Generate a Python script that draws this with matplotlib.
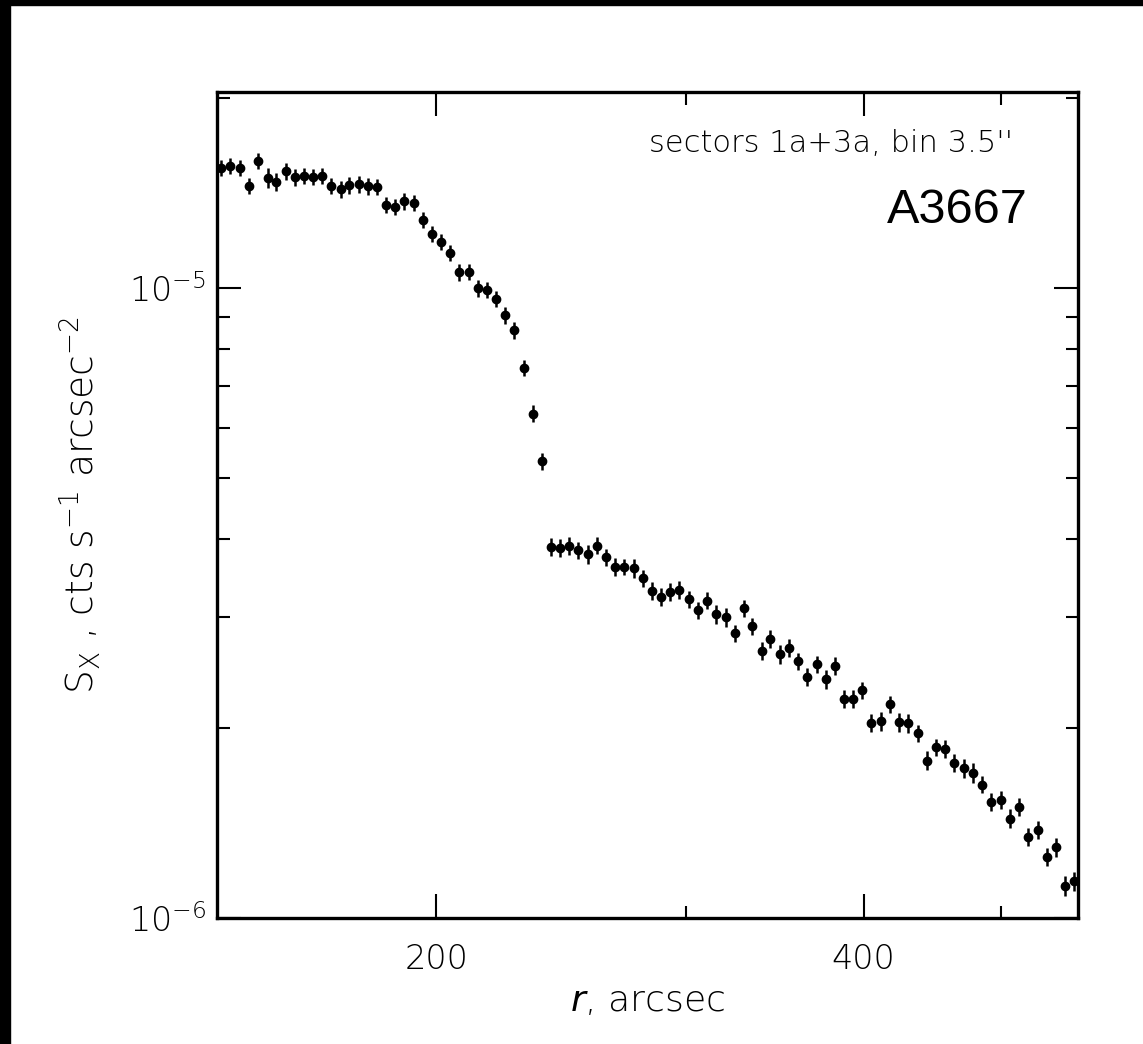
import matplotlib
matplotlib.use("Agg")
import matplotlib.pyplot as plt
from matplotlib.patches import Rectangle
from matplotlib.ticker import FixedLocator, FixedFormatter, NullFormatter

# radius of each bin, arcsec
r = [141.2, 143.3, 145.5, 147.6, 149.9, 152.2, 154.4, 156.7, 159.0, 161.4,
     163.8, 166.3, 168.7, 171.3, 173.8, 176.4, 179.0, 181.8, 184.4, 187.2,
     190.0, 192.9, 195.7, 198.7, 201.6, 204.7, 207.7, 210.9, 214.0, 217.2,
     220.4, 223.8, 227.1, 230.6, 234.0, 237.4, 241.0, 244.6, 248.3, 251.9,
     255.7, 259.6, 263.5, 267.5, 271.4, 275.5, 279.7, 283.9, 288.1, 292.5,
     296.8, 301.3, 305.8, 310.3, 315.0, 319.8, 324.5, 329.3, 334.1, 339.1,
     344.0, 349.2, 354.5, 359.9, 365.2, 370.8, 376.2, 381.8, 387.5, 393.3,
     399.2, 405.2, 411.3, 417.4, 423.9, 430.1, 436.7, 443.1, 449.9, 456.6,
     463.6, 470.5, 477.7, 485.0, 492.2, 499.8, 507.1, 514.9, 522.5, 530.5,
     538.4, 546.7, 554.3, 562.4]

# surface brightness, units of 1e-6 cts/s/arcsec^2
sx = [15.52, 15.64, 15.52, 14.52, 15.93, 14.96, 14.75, 15.32, 14.99, 15.07,
      14.99, 15.07, 14.53, 14.36, 14.56, 14.61, 14.50, 14.48, 13.54, 13.45,
      13.73, 13.64, 12.82, 12.17, 11.83, 11.37, 10.59, 10.61, 9.99, 9.94,
      9.61, 9.05, 8.57, 7.46, 6.32, 5.31, 3.886, 3.867, 3.900, 3.839,
      3.779, 3.900, 3.739, 3.610, 3.610, 3.588, 3.463, 3.304, 3.236, 3.292,
      3.320, 3.209, 3.079, 3.189, 3.034, 3.001, 2.830, 3.101, 2.907, 2.653,
      2.772, 2.621, 2.685, 2.555, 2.411, 2.526, 2.392, 2.512, 2.228, 2.228,
      2.298, 2.041, 2.051, 2.184, 2.047, 2.039, 1.966, 1.778, 1.865, 1.856,
      1.763, 1.728, 1.699, 1.628, 1.529, 1.541, 1.437, 1.501, 1.344, 1.378,
      1.250, 1.295, 1.124, 1.145]

sx_err = [0.46, 0.45, 0.46, 0.44, 0.47, 0.55, 0.48, 0.46, 0.45, 0.44,
          0.44, 0.45, 0.44, 0.44, 0.44, 0.44, 0.43, 0.43, 0.41, 0.41,
          0.41, 0.41, 0.38, 0.36, 0.35, 0.34, 0.32, 0.32, 0.30, 0.30,
          0.29, 0.27, 0.26, 0.22, 0.19, 0.16, 0.13, 0.13, 0.13, 0.12,
          0.13, 0.12, 0.12, 0.12, 0.11, 0.12, 0.11, 0.11, 0.11, 0.11,
          0.11, 0.10, 0.10, 0.10, 0.10, 0.10, 0.09, 0.10, 0.09, 0.09,
          0.09, 0.09, 0.09, 0.08, 0.08, 0.08, 0.08, 0.08, 0.07, 0.07,
          0.07, 0.07, 0.07, 0.07, 0.07, 0.07, 0.06, 0.06, 0.06, 0.06,
          0.06, 0.06, 0.06, 0.05, 0.05, 0.05, 0.05, 0.05, 0.045, 0.045,
          0.042, 0.043, 0.040, 0.040]

x_major = [200, 400]
x_major_labels = ["200", "400"]
x_minor = [300, 500]
y_major = [1e-6, 1e-5]
y_major_labels = [r"$\mathregular{10^{-6}}$", r"$\mathregular{10^{-5}}$"]

plt.rcParams["font.family"] = ["DejaVu Sans"]
plt.rcParams["font.weight"] = "light"
plt.rcParams["axes.labelweight"] = "light"
plt.rcParams["mathtext.default"] = "regular"

fig = plt.figure(figsize=(11.43, 10.44), dpi=100)
ax = fig.add_axes([217 / 1143, 1 - 918 / 1044, 861 / 1143, 826 / 1044])

y = [v * 1e-6 for v in sx]
yerr = [v * 1e-6 for v in sx_err]
ax.errorbar(r, y, yerr=yerr, fmt="o", color="black", ms=6, elinewidth=1.8, capsize=0)

ax.set_xscale("log")
ax.set_yscale("log")
ax.set_xlim(140.2, 566.4)
ax.set_ylim(1e-6, 2.047e-5)

ax.xaxis.set_major_locator(FixedLocator(x_major))
ax.xaxis.set_major_formatter(FixedFormatter(x_major_labels))
ax.xaxis.set_minor_locator(FixedLocator(x_minor))
ax.xaxis.set_minor_formatter(NullFormatter())
ax.yaxis.set_major_locator(FixedLocator(y_major))
ax.yaxis.set_major_formatter(FixedFormatter(y_major_labels))
ax.yaxis.set_minor_locator(FixedLocator([k * 1e-6 for k in range(2, 10)] + [2e-5]))
ax.yaxis.set_minor_formatter(NullFormatter())

ax.tick_params(which="both", direction="in", top=True, right=True, width=1.5, colors="black")
ax.tick_params(which="major", length=17)
ax.tick_params(which="minor", length=9)
ax.tick_params(axis="x", which="major", pad=18, labelsize=24)
ax.tick_params(axis="y", which="major", pad=8, labelsize=24)
for s in ax.spines.values():
    s.set_linewidth(2.4)

ax.set_xlabel(r"$\it{r}$, arcsec", fontsize=26)
ax.xaxis.set_label_coords(0.5, -0.080)
ax.set_ylabel(r"$S_X$ , cts s$^{-1}$ arcsec$^{-2}$", fontsize=27)
ax.yaxis.set_label_coords(-0.132, 0.5)

ax.text(0.9245, 0.927, "sectors 1a+3a, bin 3.5''", transform=ax.transAxes,
        ha="right", va="baseline", fontsize=22)
ax.text(0.942, 0.841, "A3667", transform=ax.transAxes, ha="right", va="baseline",
        fontsize=35, family="Liberation Sans", weight="normal")

# black frame strips along top and left edge
fig.patches.append(Rectangle((0, 1 - 5 / 1044), 1, 5 / 1044, transform=fig.transFigure,
                             color="black", zorder=10))
fig.patches.append(Rectangle((0, 0), 10 / 1143, 1, transform=fig.transFigure,
                             color="black", zorder=10))

fig.savefig("out.png", dpi=100)
